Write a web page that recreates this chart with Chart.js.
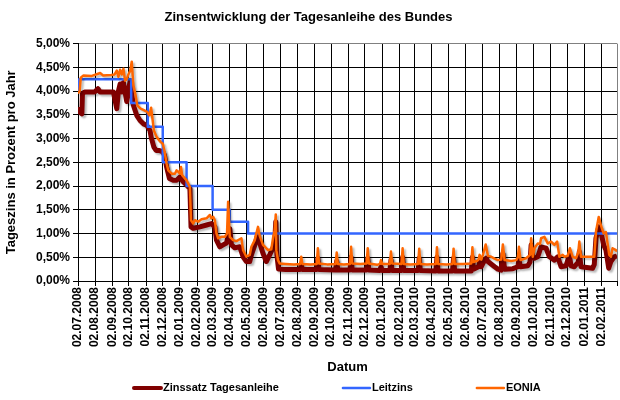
<!DOCTYPE html>
<html>
<head>
<meta charset="utf-8">
<script src="https://cdn.jsdelivr.net/npm/chart.js@4.4.1/dist/chart.umd.min.js"></script>
<style>
  html, body { margin: 0; padding: 0; background: #fff; }
</style>
</head>
<body>
<canvas id="zinsChart" width="620" height="400"></canvas>
<script>
// x values are days counted from 02.07.2008 (day 0)
const tickLabels = [
    "02.07.2008", "02.08.2008", "02.09.2008", "02.10.2008", "02.11.2008", "02.12.2008",
    "02.01.2009", "02.02.2009", "02.03.2009", "02.04.2009", "02.05.2009", "02.06.2009",
    "02.07.2009", "02.08.2009", "02.09.2009", "02.10.2009", "02.11.2009", "02.12.2009",
    "02.01.2010", "02.02.2010", "02.03.2010", "02.04.2010", "02.05.2010", "02.06.2010",
    "02.07.2010", "02.08.2010", "02.09.2010", "02.10.2010", "02.11.2010", "02.12.2010",
    "02.01.2011", "02.02.2011"
];
const axisEnd = "02.03.2011";

// Leitzins (EZB), [day, %]
const leitzinsPoints = [
    [0, 4.00], [2, 4.25], [96, 3.75], [126, 3.25], [153, 2.50], [196, 2.00],
    [243, 1.50], [274, 1.25], [307, 1.00], [973, 1.00]
];

// EONIA, [day, %]
const eoniaPoints = [
    [0, 3.95], [3, 4.00], [5, 4.28], [10, 4.33], [25, 4.32], [35, 4.36], [40, 4.38], [45, 4.33],
    [60, 4.34], [66, 4.35], [70, 4.43], [73, 4.30], [76, 4.45], [79, 4.35], [82, 4.47], [85, 4.22],
    [88, 4.25], [91, 4.35], [94, 4.42], [97, 4.62], [100, 4.12], [104, 3.91], [107, 3.70], [113, 3.63],
    [119, 3.60], [125, 3.56], [129, 3.49], [132, 3.65], [137, 3.17], [142, 3.03], [149, 2.93], [153, 2.89],
    [156, 2.75], [160, 2.47], [163, 2.33], [169, 2.26], [175, 2.26], [178, 2.33], [181, 2.30], [184, 2.26],
    [186, 2.40], [188, 2.23], [193, 2.16], [196, 2.12], [199, 2.05], [202, 1.98], [204, 1.28], [208, 1.21],
    [211, 1.28], [217, 1.25], [223, 1.30], [232, 1.32], [238, 1.39], [241, 1.32], [244, 1.35], [247, 1.28],
    [250, 1.00], [253, 0.90], [259, 0.93], [265, 0.93], [269, 1.00], [271, 1.67], [274, 0.93], [280, 0.86],
    [286, 0.84], [295, 0.90], [298, 0.65], [304, 0.51], [310, 0.55], [313, 0.72], [319, 0.86], [325, 1.14],
    [328, 0.95], [334, 0.76], [343, 0.65], [349, 0.67], [352, 0.90], [355, 1.07], [357, 1.40], [358, 0.65],
    [361, 0.44], [364, 0.37],
    [375, 0.36], [390, 0.35], [401, 0.36], [403, 0.51], [405, 0.36], [420, 0.35], [431, 0.36], [433, 0.69],
    [435, 0.37], [450, 0.35], [465, 0.36], [467, 0.60], [469, 0.36], [480, 0.35], [491, 0.36], [493, 0.72],
    [495, 0.37], [510, 0.36], [521, 0.37], [523, 0.69], [525, 0.37], [540, 0.34], [545, 0.36], [547, 0.44],
    [549, 0.36], [563, 0.36], [565, 0.62], [567, 0.37], [584, 0.36], [586, 0.69], [588, 0.36], [600, 0.35],
    [614, 0.36], [616, 0.68], [618, 0.36], [630, 0.35], [646, 0.36], [648, 0.71], [650, 0.36], [665, 0.35],
    [676, 0.36], [678, 0.68], [680, 0.36], [695, 0.36], [710, 0.37], [712, 0.71], [714, 0.40], [720, 0.42],
    [723, 0.45], [725, 0.55], [728, 0.45], [731, 0.55], [736, 0.77], [740, 0.53], [746, 0.51], [752, 0.47],
    [758, 0.44], [764, 0.45], [767, 0.77], [770, 0.44], [782, 0.42], [791, 0.44], [794, 0.50], [796, 0.72],
    [799, 0.44], [809, 0.48], [816, 0.55], [818, 0.90], [821, 0.51], [824, 0.69], [830, 0.79], [834, 0.78],
    [836, 0.90], [842, 0.93], [848, 0.79], [854, 0.83], [860, 0.76], [865, 0.83], [869, 0.51], [875, 0.55],
    [878, 0.51], [884, 0.53], [888, 0.69], [893, 0.51], [899, 0.48], [903, 0.60], [905, 0.83], [908, 0.51],
    [917, 0.51], [923, 0.51], [932, 0.51], [935, 1.03], [940, 1.35], [944, 1.17], [949, 1.00], [953, 1.03],
    [959, 0.55], [962, 0.51], [965, 0.69], [971, 0.65], [973, 0.62]
];

// Zinssatz Tagesanleihe, [day, %]
const tagesPoints = [
    [0, 3.66], [4, 3.55], [7, 3.52], [8, 3.95], [12, 3.98], [30, 3.98], [36, 4.05], [40, 3.98],
    [64, 3.98], [67, 3.80], [70, 3.63], [73, 4.00], [76, 4.15], [79, 3.98], [82, 4.18], [85, 3.98],
    [88, 3.78], [91, 4.02], [94, 4.20], [97, 3.95], [100, 3.70], [106, 3.49], [112, 3.38], [118, 3.31],
    [124, 3.28], [130, 3.17], [132, 3.03], [137, 2.82], [141, 2.75], [147, 2.75], [153, 2.72], [156, 2.65],
    [160, 2.40], [165, 2.16], [172, 2.12], [178, 2.12], [184, 2.19], [190, 2.09], [196, 2.02], [202, 1.95],
    [204, 1.14], [208, 1.11], [220, 1.14], [232, 1.18], [241, 1.21], [247, 1.14], [250, 0.86], [256, 0.72],
    [262, 0.76], [268, 0.80], [272, 1.00], [274, 1.10], [277, 0.76], [283, 0.70], [292, 0.72], [298, 0.51],
    [304, 0.41], [310, 0.41], [313, 0.55], [319, 0.75], [324, 0.97], [328, 0.80], [334, 0.58], [340, 0.41],
    [346, 0.55], [352, 0.70], [355, 0.80], [357, 1.25], [359, 0.55], [362, 0.25],
    [375, 0.24], [401, 0.24], [403, 0.35], [405, 0.24], [431, 0.24], [433, 0.48], [435, 0.24], [465, 0.23],
    [467, 0.42], [469, 0.23], [491, 0.23], [493, 0.50], [495, 0.23], [521, 0.23], [523, 0.48], [525, 0.23],
    [545, 0.22], [547, 0.30], [549, 0.22], [563, 0.22], [565, 0.45], [567, 0.22], [584, 0.22], [586, 0.50],
    [588, 0.22], [614, 0.22], [616, 0.48], [618, 0.22], [646, 0.21], [648, 0.50], [650, 0.21], [676, 0.21],
    [678, 0.48], [680, 0.21], [710, 0.21], [712, 0.50], [714, 0.25], [723, 0.30], [725, 0.40], [728, 0.30],
    [734, 0.44], [737, 0.48], [740, 0.41], [752, 0.30], [758, 0.25], [764, 0.23], [767, 0.58], [770, 0.25],
    [785, 0.26], [794, 0.30], [796, 0.44], [799, 0.30], [812, 0.32], [816, 0.40], [818, 0.76], [821, 0.50],
    [824, 0.48], [830, 0.51], [836, 0.72], [845, 0.69], [851, 0.51], [860, 0.44], [866, 0.51], [872, 0.30],
    [881, 0.32], [887, 0.55], [890, 0.32], [896, 0.30], [903, 0.40], [905, 0.62], [908, 0.30], [929, 0.27],
    [932, 0.35], [935, 0.90], [940, 1.14], [944, 1.03], [949, 0.76], [953, 0.65], [958, 0.27], [962, 0.41],
    [968, 0.51], [973, 0.53]
];

const FONT = '"Liberation Sans", Arial, sans-serif';
const dayZero = Date.UTC(2008, 6, 2);

function dayOf(label) {
    const parts = label.split(".").map(Number);
    return Math.round((Date.UTC(parts[2], parts[1] - 1, parts[0]) - dayZero) / 86400000);
}

const tickDays = tickLabels.map(dayOf);
const endDay = dayOf(axisEnd);
const labelByDay = {};
tickLabels.forEach((lbl, i) => { labelByDay[tickDays[i]] = lbl; });

const toXY = pts => pts.map(p => ({ x: p[0], y: p[1] }));

// grey drop shadow like the spreadsheet lines
const lineShadow = {
    id: "lineShadow",
    beforeDatasetDraw(chart, args) {
        if (!chart.data.datasets[args.index].shadow) return;
        const ctx = chart.ctx;
        ctx.save();
        ctx.shadowColor = "rgba(0,0,0,0.28)";
        ctx.shadowBlur = 2;
        ctx.shadowOffsetX = 2;
        ctx.shadowOffsetY = 2;
    },
    afterDatasetDraw(chart, args) {
        if (chart.data.datasets[args.index].shadow) chart.ctx.restore();
    }
};

// legend row at the bottom, spaced out like the original
const bottomLegend = {
    id: "bottomLegend",
    afterDraw(chart) {
        const ctx = chart.ctx;
        const y = chart.height - 12;
        let x = chart.chartArea.left + 56;
        ctx.save();
        ctx.font = "bold 11px " + FONT;
        ctx.textBaseline = "middle";
        ctx.fillStyle = "#000";
        chart.data.datasets.forEach(ds => {
            ctx.strokeStyle = ds.borderColor;
            ctx.lineWidth = ds.legendWidth;
            ctx.lineCap = "round";
            ctx.beginPath();
            ctx.moveTo(x, y);
            ctx.lineTo(x + 27, y);
            ctx.stroke();
            ctx.fillText(ds.label, x + 29, y);
            x += 29 + ctx.measureText(ds.label).width + 64;
        });
        ctx.restore();
    }
};

new Chart(document.getElementById("zinsChart"), {
    type: "line",
    data: {
        datasets: [
            {
                label: "Zinssatz Tagesanleihe",
                data: toXY(tagesPoints),
                borderColor: "#800000",
                borderWidth: 5,
                legendWidth: 4,
                shadow: true,
                order: 2
            },
            {
                label: "Leitzins",
                data: toXY(leitzinsPoints),
                borderColor: "#3366ff",
                borderWidth: 2.5,
                legendWidth: 2.5,
                stepped: true,
                order: 1
            },
            {
                label: "EONIA",
                data: toXY(eoniaPoints),
                borderColor: "#ff6600",
                borderWidth: 2.5,
                legendWidth: 2.5,
                shadow: true,
                order: 0
            }
        ]
    },
    options: {
        responsive: false,
        animation: false,
        parsing: false,
        borderJoinStyle: "round",
        elements: {
            point: { radius: 0 },
            line: { tension: 0, borderJoinStyle: "round" }
        },
        layout: { padding: { left: 0, right: 3, top: 0, bottom: 22 } },
        plugins: {
            legend: { display: false },
            tooltip: { enabled: false },
            title: {
                display: true,
                text: "Zinsentwicklung der Tagesanleihe des Bundes",
                color: "#000",
                font: { family: FONT, size: 13, weight: "bold" },
                padding: { top: 10, bottom: 18 }
            }
        },
        scales: {
            x: {
                type: "linear",
                min: 0,
                max: endDay,
                afterBuildTicks: scale => {
                    scale.ticks = tickDays.concat([endDay]).map(v => ({ value: v }));
                },
                afterFit: scale => {
                    scale.height = 97;
                    scale.paddingLeft = 0;
                    scale.paddingRight = 0;
                },
                ticks: {
                    autoSkip: false,
                    minRotation: 90,
                    maxRotation: 90,
                    padding: 1,
                    color: "#000",
                    font: { family: FONT, size: 12, weight: "bold" },
                    callback: value => labelByDay[value] || ""
                },
                grid: {
                    color: c => (c.tick && c.tick.value === endDay) ? "#808080" : "#000",
                    tickColor: "#000",
                    tickLength: 5,
                    lineWidth: 1
                },
                border: { color: "#000", width: 1 },
                title: {
                    display: true,
                    text: "Datum",
                    color: "#000",
                    font: { family: FONT, size: 13, weight: "bold" },
                    padding: { top: 0, bottom: 3 }
                }
            },
            y: {
                min: 0,
                max: 5,
                afterFit: scale => { scale.width = 78; },
                ticks: {
                    stepSize: 0.5,
                    padding: 3,
                    color: "#000",
                    font: { family: FONT, size: 12, weight: "bold" },
                    callback: v => v.toFixed(2).replace(".", ",") + "%"
                },
                grid: {
                    color: c => (c.tick && c.tick.value === 5) ? "#808080" : "#000",
                    tickColor: "#000",
                    tickLength: 5,
                    lineWidth: 1
                },
                border: { color: "#000", width: 1 },
                title: {
                    display: true,
                    text: "Tageszins in Prozent pro Jahr",
                    color: "#000",
                    font: { family: FONT, size: 13, weight: "bold" },
                    padding: { top: 4, bottom: 4 }
                }
            }
        }
    },
    plugins: [lineShadow, bottomLegend]
});
</script>
</body>
</html>
